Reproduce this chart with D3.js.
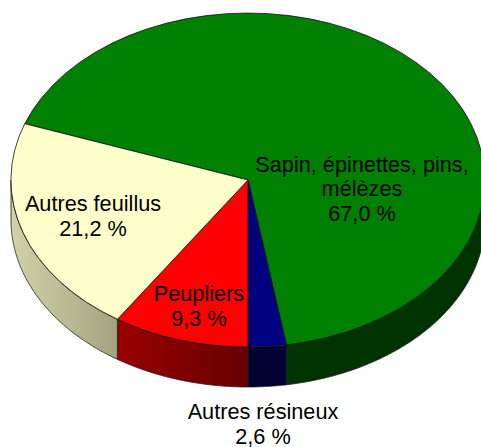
<!DOCTYPE html>
<html>
<head>
<meta charset="utf-8">
<script src="https://cdn.jsdelivr.net/npm/d3@7/dist/d3.min.js"></script>
<style>
  html, body { margin: 0; padding: 0; background: #fff; }
  svg { display: block; }
  text { font-family: "Liberation Sans", Arial, sans-serif; font-size: 21.7px; fill: #000; text-anchor: middle; }
</style>
</head>
<body>
<script>
var categories = ["Sapin, épinettes, pins, mélèzes", "Autres résineux", "Peupliers", "Autres feuillus"];
var values = [67.0, 2.6, 9.3, 21.2];
var topColors = ["#008000", "#000080", "#ff0000", "#ffffcc"];
var sideColorsLeft = ["#003300", "#000033", "#990000", "#d2d2a8"];
var sideColorsRight = ["#003300", "#000033", "#660000", "#a3a380"];
var labelLines = [
    ["Sapin, épinettes, pins,", "mélèzes", "67,0 %"],
    ["Autres résineux", "2,6 %"],
    ["Peupliers", "9,3 %"],
    ["Autres feuillus", "21,2 %"]
];

var width = 481,
    height = 447,
    cx = 248,
    cy = 180,
    rx = 237,
    ry = 167,
    depth = 40;

var labelPos = [[362, 171.5], [263, 419], [199, 301], [93, 211]];
var lineStep = 24.5;

var svg = d3.select("body").append("svg")
    .attr("width", width)
    .attr("height", height);

// the first two slices end on the straight-down line
var total = d3.sum(values);
var start = Math.PI - 2 * Math.PI * (values[0] + values[1]) / total;
var pie = d3.pie().sort(null)
    .startAngle(start)
    .endAngle(start + 2 * Math.PI);
var arcs = pie(values);

function px(a) { return cx + rx * Math.sin(a); }
function py(a) { return cy - ry * Math.cos(a); }

var defs = svg.append("defs");

// walls only show on the front half of the ellipse
arcs.forEach(function(d, i) {
    var lo = Math.max(d.startAngle, Math.PI / 2);
    var hi = Math.min(d.endAngle, 3 * Math.PI / 2);
    if (hi <= lo) return;

    var grad = defs.append("linearGradient")
        .attr("id", "side" + i)
        .attr("gradientUnits", "userSpaceOnUse")
        .attr("x1", Math.min(px(lo), px(hi))).attr("x2", Math.max(px(lo), px(hi)))
        .attr("y1", 0).attr("y2", 0);
    grad.append("stop").attr("offset", 0).attr("stop-color", sideColorsLeft[i]);
    grad.append("stop").attr("offset", 1).attr("stop-color", sideColorsRight[i]);

    var steps = d3.range(lo, hi, (hi - lo) / 80).concat([hi]);
    var line = d3.line()
        .x(function(p) { return p[0]; })
        .y(function(p) { return p[1]; });
    var outline = steps.map(function(a) { return [px(a), py(a)]; })
        .concat(steps.slice().reverse().map(function(a) { return [px(a), py(a) + depth]; }));

    svg.append("path")
        .attr("d", line(outline) + "Z")
        .attr("fill", "url(#side" + i + ")")
        .attr("stroke", "#222")
        .attr("stroke-width", 0.8);
});

var arc = d3.arc().innerRadius(0).outerRadius(1);

svg.append("g").selectAll("path")
    .data(arcs)
    .enter().append("path")
    .attr("d", arc)
    .attr("transform", "translate(" + cx + "," + cy + ") scale(" + rx + "," + ry + ")")
    .attr("fill", function(d, i) { return topColors[i]; })
    .attr("stroke", "#111")
    .attr("stroke-width", 0.8)
    .attr("vector-effect", "non-scaling-stroke");

labelLines.forEach(function(lines, i) {
    var t = svg.append("text")
        .attr("x", labelPos[i][0])
        .attr("y", labelPos[i][1]);
    lines.forEach(function(s, j) {
        t.append("tspan")
            .attr("x", labelPos[i][0])
            .attr("dy", j ? lineStep : 0)
            .text(s);
    });
});
</script>
</body>
</html>
